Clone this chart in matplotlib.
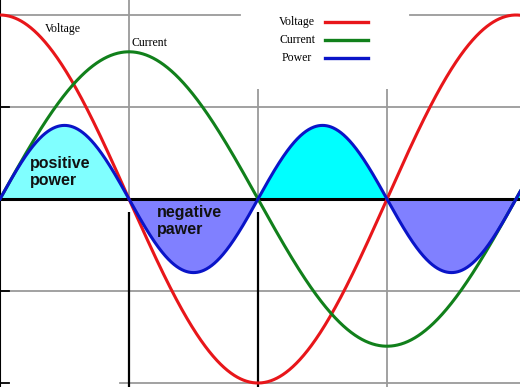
import numpy as np
import matplotlib
matplotlib.use("Agg")
import matplotlib.pyplot as plt
from matplotlib.lines import Line2D

# phase angle in degrees, amplitudes relative to voltage peak
phase_deg = np.linspace(0, 363, 1200)
v_amp = 1.0
i_amp = 0.80
p_amp = 0.40

labels = ["Voltage", "Current", "Power"]
colors = ["#e8161a", "#11801b", "#0a14c8"]

rad = np.radians(phase_deg)
voltage = v_amp * np.cos(rad)
current = i_amp * np.sin(rad)
power = p_amp * np.sin(2 * rad)

W, H = 520, 387
fig = plt.figure(figsize=(W / 100, H / 100), dpi=100)
ax = fig.add_axes([0, 0, 1, 1])
xmax = 520 / (129 / 90)
ax.set_xlim(0, xmax)
ax.set_ylim(-188 / 184, 199 / 184)
ax.axis("off")

grid = "#9a9a9a"
# horizontal grid lines
for yv in (0.5, -0.5):
    ax.axhline(yv, color=grid, lw=1.3, zorder=1)
ax.axhline(-1.0, xmin=120 / W, xmax=1, color=grid, lw=1.3, zorder=1)
ax.axhline(1.0, xmin=0, xmax=240 / W, color=grid, lw=1.3, zorder=1)
ax.axhline(1.0, xmin=410 / W, xmax=1, color=grid, lw=1.3, zorder=1)
# vertical grid lines
ax.vlines(90, 0, 1.1, color=grid, lw=1.3, zorder=1)
ax.vlines(180, 0, 0.60, color=grid, lw=1.3, zorder=1)
ax.vlines(270, -1.1, 0.60, color=grid, lw=1.3, zorder=1)
# black markers below the axis
ax.vlines([90, 180], -1.1, -0.07, color="black", lw=1.6, zorder=2)
# left axis and ticks
ax.axvline(0, color="black", lw=1.5, zorder=2)
for yv in (0.5, -0.5, -1.0):
    ax.plot([0, 6], [yv, yv], color="black", lw=1.3, zorder=2)

# power fills
pos_mask = power >= 0
ax.fill_between(phase_deg, 0, power, where=pos_mask & (phase_deg <= 90),
                color="#80ffff", lw=0, zorder=2)
ax.fill_between(phase_deg, 0, power, where=pos_mask & (phase_deg >= 180),
                color="#00ffff", lw=0, zorder=2)
ax.fill_between(phase_deg, 0, power, where=~pos_mask | (power == 0),
                color="#8080ff", lw=0, zorder=2)

ax.axhline(0, color="black", lw=2.2, zorder=3)

ax.plot(phase_deg, voltage, color=colors[0], lw=2.2, zorder=4)
ax.plot(phase_deg, current, color=colors[1], lw=2.2, zorder=4)
ax.plot(phase_deg, power, color=colors[2], lw=2.2, zorder=5)

serif = "Liberation Serif"
ax.text(45 / W, 1 - 29 / H, "Voltage", transform=ax.transAxes, ha="left",
        va="center", family=serif, fontsize=8.5)
ax.text(132 / W, 1 - 43 / H, "Current", transform=ax.transAxes, ha="left",
        va="center", family=serif, fontsize=8.5)

# legend drawn by hand
for k, (lab, col) in enumerate(zip(labels, colors)):
    yy = 1 - (22 + 18 * k) / H
    ax.text(297 / W, yy, lab, transform=ax.transAxes, ha="center",
            va="center", family=serif, fontsize=8.5)
    ax.add_line(Line2D([325 / W, 368 / W], [yy, yy], transform=ax.transAxes,
                       color=col, lw=2.4))

ax.text(30 / W, 1 - 172 / H, "positive\npower", transform=ax.transAxes,
        ha="left", va="center", family="Liberation Sans", fontweight="bold",
        fontsize=11.5, color="#111111", linespacing=1.2, zorder=6)
ax.text(157 / W, 1 - 221 / H, "negative\npawer", transform=ax.transAxes,
        ha="left", va="center", family="Liberation Sans", fontweight="bold",
        fontsize=11.5, color="#111111", linespacing=1.2, zorder=6)

fig.savefig("out.png", dpi=100)
